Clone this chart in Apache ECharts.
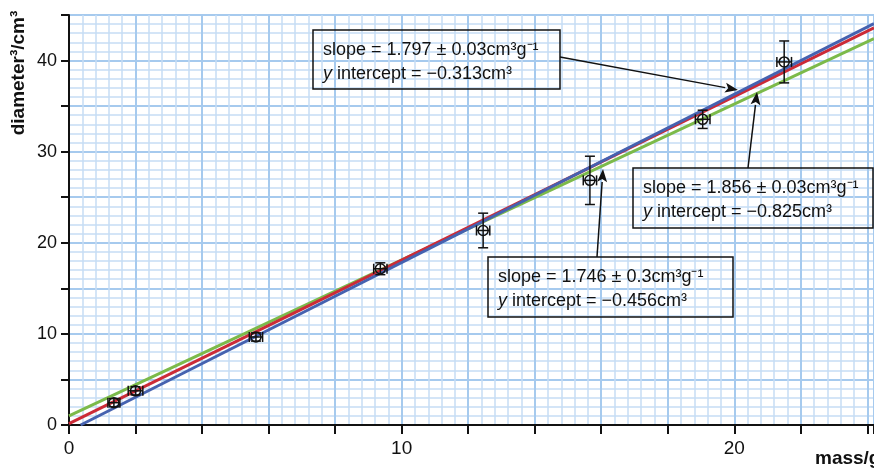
<!DOCTYPE html>
<html>
<head>
<meta charset="utf-8">
<script src="https://cdn.jsdelivr.net/npm/echarts@6/dist/echarts.min.js"></script>
<style>
html,body{margin:0;padding:0;background:#fff;}
#chart{width:874px;height:469px;}
</style>
</head>
<body>
<div id="chart"></div>
<script>
// ---- data ----
var massG = [1.35, 2.0, 5.62, 9.36, 12.45, 15.66, 19.05, 21.5];
var diamCubed = [2.45, 3.75, 9.66, 17.15, 21.35, 26.85, 33.55, 39.85];
var massErr = [0.18, 0.22, 0.2, 0.2, 0.2, 0.2, 0.22, 0.22];
var diamErr = [0.45, 0.45, 0.45, 0.65, 1.9, 2.65, 1.0, 2.3];
var blueLine = [[0.35, 0], [24.2, 44.05]];
var redLine = [[0, 0.15], [24.2, 43.6]];
var greenLine = [[0, 1.0], [24.2, 42.4]];
var xTickLabels = [0, 10, 20];
var yTickLabels = [0, 10, 20, 30, 40];
var notes = [
  ['slope = 1.797 \u00b1 0.03cm\u00b3g\u207b\u00b9', '\u22120.313cm\u00b3'],
  ['slope = 1.856 \u00b1 0.03cm\u00b3g\u207b\u00b9', '\u22120.825cm\u00b3'],
  ['slope = 1.746 \u00b1 0.3cm\u00b3g\u207b\u00b9', '\u22120.456cm\u00b3']
];

var FONT = '"Liberation Sans Narrow", "Liberation Sans", Arial, sans-serif';
var pts = massG.map(function (m, i) { return [m, diamCubed[i], massErr[i], diamErr[i]]; });

var chart = echarts.init(document.getElementById('chart'));

function minorAxis(interval, max, pos) {
  return {
    type: 'value', min: 0, max: max, interval: interval, position: pos,
    axisLine: {show: false}, axisTick: {show: false}, axisLabel: {show: false},
    splitLine: {show: true, lineStyle: {color: '#c6ddf4', width: 1.5}}
  };
}

function annot(x, y, w, h, lines) {
  return {
    type: 'group', x: x, y: y, z: 100,
    children: [
      {type: 'rect', z: 100, shape: {x: 0, y: 0, width: w, height: h},
       style: {fill: null, stroke: '#111', lineWidth: 1.5}},
      {type: 'text', z: 100, x: 10, y: 8,
       style: {
         text: '{n|' + lines[0] + '}\n{i|y}{n| intercept = ' + lines[1] + '}',
         rich: {
           n: {fontFamily: FONT, fontSize: 18, fill: '#111', lineHeight: 24},
           i: {fontFamily: FONT, fontSize: 18, fontStyle: 'italic', fill: '#111', lineHeight: 24}
         }
       }}
    ]
  };
}

function arrow(x1, y1, x2, y2) {
  var ang = Math.atan2(y2 - y1, x2 - x1);
  var L = 13, W = 5;
  var bx = x2 - L * Math.cos(ang), by = y2 - L * Math.sin(ang);
  var px = -Math.sin(ang) * W, py = Math.cos(ang) * W;
  return [
    {type: 'line', z: 100, shape: {x1: x1, y1: y1, x2: bx, y2: by},
     style: {stroke: '#111', lineWidth: 1.5}},
    {type: 'polygon', z: 100, shape: {points: [[x2, y2], [bx + px, by + py], [bx + 3 * Math.cos(ang), by + 3 * Math.sin(ang)], [bx - px, by - py]]},
     style: {fill: '#111'}}
  ];
}

var option = {
  animation: false,
  backgroundColor: '#fff',
  grid: {left: 69, right: 0, top: 15, bottom: 44, containLabel: false, outerBoundsMode: 'none'},
  xAxis: [
    minorAxis(0.4, 24.2, 'bottom'),
    {
      type: 'value', min: 0, max: 24.2, interval: 2, position: 'bottom',
      axisLine: {show: true, onZero: false, lineStyle: {color: '#111', width: 2}},
      axisTick: {show: true, length: 9, lineStyle: {color: '#111', width: 2}},
      axisLabel: {show: true, margin: 14, fontFamily: FONT, fontSize: 19, color: '#111',
        formatter: function (v) { return xTickLabels.indexOf(v) >= 0 ? String(v) : ''; }},
      splitLine: {show: true, lineStyle: {color: '#a6caee', width: 2}}
    }
  ],
  yAxis: [
    minorAxis(1, 45, 'left'),
    {
      type: 'value', min: 0, max: 45, interval: 5, position: 'left',
      axisLine: {show: true, onZero: false, lineStyle: {color: '#111', width: 2}},
      axisTick: {show: true, length: 8, lineStyle: {color: '#111', width: 2}},
      axisLabel: {show: true, margin: 12, fontFamily: FONT, fontSize: 18, color: '#111',
        formatter: function (v) { return yTickLabels.indexOf(v) >= 0 ? String(v) : ''; }},
      splitLine: {show: true, lineStyle: {color: '#a6caee', width: 2}}
    }
  ],
  series: [
    {type: 'line', data: greenLine, symbol: 'none', xAxisIndex: 0, yAxisIndex: 0, z: 5,
     lineStyle: {color: '#7cba4a', width: 3}},
    {type: 'line', data: redLine, symbol: 'none', xAxisIndex: 0, yAxisIndex: 0, z: 6,
     lineStyle: {color: '#cc2b37', width: 3}},
    {type: 'line', data: blueLine, symbol: 'none', xAxisIndex: 0, yAxisIndex: 0, z: 7,
     lineStyle: {color: '#4562b0', width: 3}},
    {
      type: 'custom', xAxisIndex: 0, yAxisIndex: 0, z: 10, data: pts,
      renderItem: function (params, api) {
        var x = api.value(0), y = api.value(1), ex = api.value(2), ey = api.value(3);
        var c = api.coord([x, y]);
        var top = api.coord([x, y + ey]), bot = api.coord([x, y - ey]);
        var lft = api.coord([x - ex, y]), rgt = api.coord([x + ex, y]);
        var cap = 5, r = 5;
        var st = {stroke: '#111', lineWidth: 1.5, fill: null};
        function ln(a, b, c2, d) { return {type: 'line', shape: {x1: a, y1: b, x2: c2, y2: d}, style: st}; }
        return {
          type: 'group',
          children: [
            ln(c[0], top[1], c[0], bot[1]),
            ln(c[0] - cap, top[1], c[0] + cap, top[1]),
            ln(c[0] - cap, bot[1], c[0] + cap, bot[1]),
            ln(lft[0], c[1], rgt[0], c[1]),
            ln(lft[0], c[1] - cap, lft[0], c[1] + cap),
            ln(rgt[0], c[1] - cap, rgt[0], c[1] + cap),
            {type: 'circle', shape: {cx: c[0], cy: c[1], r: r}, style: {stroke: '#111', lineWidth: 1.5, fill: null}}
          ]
        };
      }
    }
  ],
  graphic: [].concat(
    [
      {type: 'text', x: 19, y: 73, rotation: Math.PI / 2, z: 100,
       style: {text: 'diameter\u00b3/cm\u00b3', fontFamily: FONT, fontSize: 19, fontWeight: 'bold', fill: '#111',
               align: 'center', verticalAlign: 'middle'}},
      {type: 'text', x: 815, y: 459, z: 100,
       style: {text: 'mass/g', fontFamily: FONT, fontSize: 19, fontWeight: 'bold', fill: '#111',
               align: 'left', verticalAlign: 'middle'}},
      annot(313, 30, 247, 59, notes[0]),
      annot(633, 168, 240, 60, notes[1]),
      annot(488, 257, 245, 60, notes[2])
    ],
    arrow(560, 57, 738, 90),
    arrow(748, 168, 757, 92),
    arrow(597, 257, 603, 169)
  )
};
chart.setOption(option);
</script>
</body>
</html>
